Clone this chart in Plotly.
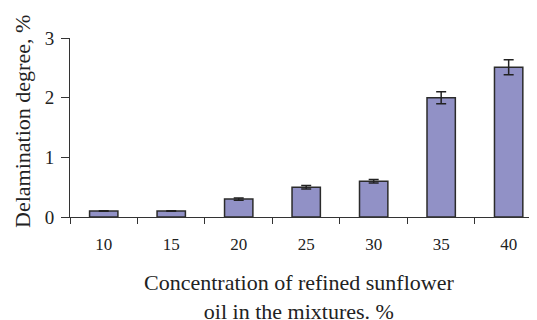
import plotly.graph_objects as go

categories = ["10", "15", "20", "25", "30", "35", "40"]
values = [0.1, 0.1, 0.3, 0.5, 0.6, 2.0, 2.51]
errors = [0.005, 0.005, 0.02, 0.03, 0.03, 0.1, 0.125]
y_ticks = [0, 1, 2, 3]

FONT = "Liberation Serif, Times New Roman, serif"

# The page body adds an 8px offset, so the figure is sized to fill the rest of the window.
fig = go.Figure(go.Bar(
    x=categories, y=values, width=0.42,
    marker=dict(color="#9191C6", line=dict(color="#2b2b2b", width=1.5)),
    error_y=dict(type="data", array=errors, visible=True, color="#222222",
                 thickness=1.5, width=5),
))

fig.update_layout(
    width=529, height=312,
    margin=dict(l=62, r=0, t=30, b=103, autoexpand=False),
    paper_bgcolor="white", plot_bgcolor="white",
    showlegend=False,
    font=dict(family=FONT, color="#222222", size=18),
    xaxis=dict(
        type="category", range=[-0.5, 6.42], automargin=False,
        showline=True, linecolor="#333333", linewidth=1,
        ticks="outside", tickson="boundaries", ticklen=6, tickcolor="#333333",
        tickfont=dict(size=17), ticklabelstandoff=12,
        showgrid=False, zeroline=False,
    ),
    yaxis=dict(
        range=[0, 3], tickvals=y_ticks, automargin=False,
        showline=True, linecolor="#333333", linewidth=1,
        ticks="outside", ticklen=8, tickcolor="#333333",
        tickfont=dict(size=19), ticklabelstandoff=3,
        showgrid=False, zeroline=False,
    ),
    annotations=[
        dict(text="Delamination degree, %", textangle=-90,
             xref="paper", yref="paper", x=-0.103, y=0.536,
             xanchor="center", yanchor="middle", showarrow=False,
             font=dict(size=22, family=FONT, color="#222222")),
        dict(text="Concentration of refined sunflower<br>oil in the mixtures. %",
             xref="paper", yref="paper", x=0.49, y=-0.285,
             xanchor="center", yanchor="top", showarrow=False,
             font=dict(size=22, family=FONT, color="#222222")),
    ],
)

fig.write_html("out.html")
